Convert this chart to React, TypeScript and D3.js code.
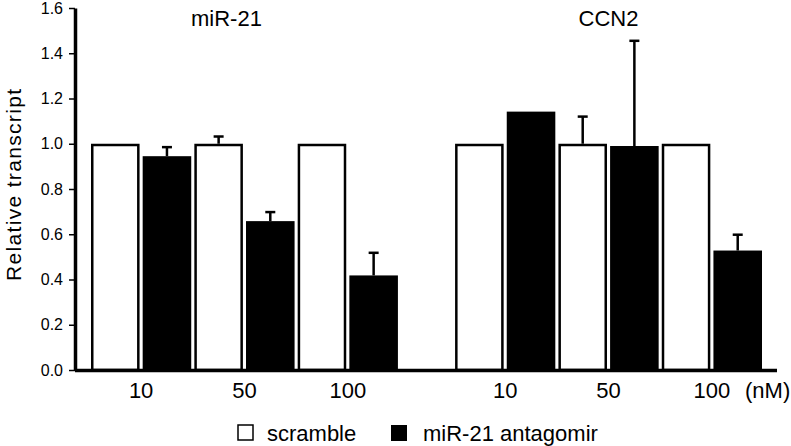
import { useEffect, useRef } from "react";
import * as d3 from "d3";

const groups = ["miR-21", "CCN2"];
const doses = ["10", "50", "100"];
const series = ["scramble", "miR-21 antagomir"];
// values per group, per dose
const scrambleVals = [[1.0, 1.0, 1.0], [1.0, 1.0, 1.0]];
const scrambleErr = [[0, 0.032, 0], [0, 0.12, 0]];
const antagomirVals = [[0.945, 0.658, 0.418], [1.142, 0.99, 0.528]];
const antagomirErr = [[0.04, 0.04, 0.1], [0, 0.465, 0.07]];
const yTicks = [0, 0.2, 0.4, 0.6, 0.8, 1.0, 1.2, 1.4, 1.6];

const FONT = "'Liberation Sans', Arial, sans-serif";
const titleShift = [-18, 0];

function App() {
  const yAxisRef = useRef<SVGGElement>(null);

  const width = 791;
  const height = 446;
  const x0 = 75;
  const y = d3.scaleLinear().domain([0, 1.6]).range([370, 8]);

  const gx = d3.scaleBand().domain(groups).range([91, 762]).paddingInner(0.157);
  const keys = doses.flatMap((d) => series.map((s) => d + "|" + s));
  const bx = d3.scaleBand().domain(keys).range([0, gx.bandwidth()]).paddingInner(0.06);

  useEffect(() => {
    const g = d3.select(yAxisRef.current);
    g.call(
      d3.axisLeft(y).tickValues(yTicks).tickFormat(d3.format(".1f")).tickSize(6).tickSizeOuter(0).tickPadding(6)
    );
    g.select(".domain").attr("stroke-width", 3.5);
    g.selectAll(".tick line").attr("stroke-width", 1.5);
    g.selectAll(".tick text").attr("font-size", 16).attr("font-family", FONT).attr("fill", "#000");
  }, []);

  const bars: any[] = [];
  groups.forEach((grp, gi) => {
    doses.forEach((d, di) => {
      bars.push({ grp, key: d + "|" + series[0], v: scrambleVals[gi][di], e: scrambleErr[gi][di], fill: "#fff" });
      bars.push({ grp, key: d + "|" + series[1], v: antagomirVals[gi][di], e: antagomirErr[gi][di], fill: "#000" });
    });
  });

  return (
    <svg width={width} height={height} style={{ position: "absolute", left: 0, top: 0, background: "#fff" }}>
      {bars.map((b, i) => {
        const bxp = (gx(b.grp) as number) + (bx(b.key) as number);
        const bw = bx.bandwidth();
        const cx = bxp + bw / 2;
        return (
          <g key={i}>
            {b.e > 0 && (
              <g stroke="#000" strokeWidth={2.5}>
                <line x1={cx} x2={cx} y1={y(b.v)} y2={y(b.v + b.e)} />
                <line x1={cx - 5} x2={cx + 5} y1={y(b.v + b.e)} y2={y(b.v + b.e)} />
              </g>
            )}
            <rect
              x={bxp + 1.25}
              y={y(b.v) + 1.25}
              width={bw - 2.5}
              height={y(0) - y(b.v) - 1.25}
              fill={b.fill}
              stroke="#000"
              strokeWidth={2.5}
            />
          </g>
        );
      })}
      <line x1={x0} x2={777} y1={y(0) + 0.5} y2={y(0) + 0.5} stroke="#000" strokeWidth={3.5} />
      <g ref={yAxisRef} transform={`translate(${x0},0)`} />
      <text
        transform={`translate(21,185) rotate(-90)`}
        textAnchor="middle"
        fontFamily={FONT}
        fontSize={21}
        textLength={192}
        lengthAdjust="spacing"
      >
        Relative transcript
      </text>
      {groups.map((grp, gi) => (
        <text
          key={grp}
          x={(gx(grp) as number) + gx.bandwidth() / 2 + titleShift[gi]}
          y={26}
          textAnchor="middle"
          fontFamily={FONT}
          fontSize={22}
        >
          {grp}
        </text>
      ))}
      {groups.map((grp) =>
        doses.map((d) => {
          const a = (gx(grp) as number) + (bx(d + "|" + series[0]) as number);
          const b = (gx(grp) as number) + (bx(d + "|" + series[1]) as number) + bx.bandwidth();
          return (
            <text
              key={grp + d}
              x={(a + b) / 2}
              y={398}
              textAnchor="middle"
              fontFamily={FONT}
              fontSize={22}
            >
              {d}
            </text>
          );
        })
      )}
      <text x={745} y={398} fontFamily={FONT} fontSize={22}>
        (nM)
      </text>
      <g fontFamily={FONT} fontSize={22}>
        <rect x={238} y={425} width={15} height={15} fill="#fff" stroke="#000" strokeWidth={1.5} />
        <text x={267} y={441}>{series[0]}</text>
        <rect x={391} y={425} width={16} height={16} fill="#000" />
        <text x={423} y={441}>{series[1]}</text>
      </g>
    </svg>
  );
}

export default App;
